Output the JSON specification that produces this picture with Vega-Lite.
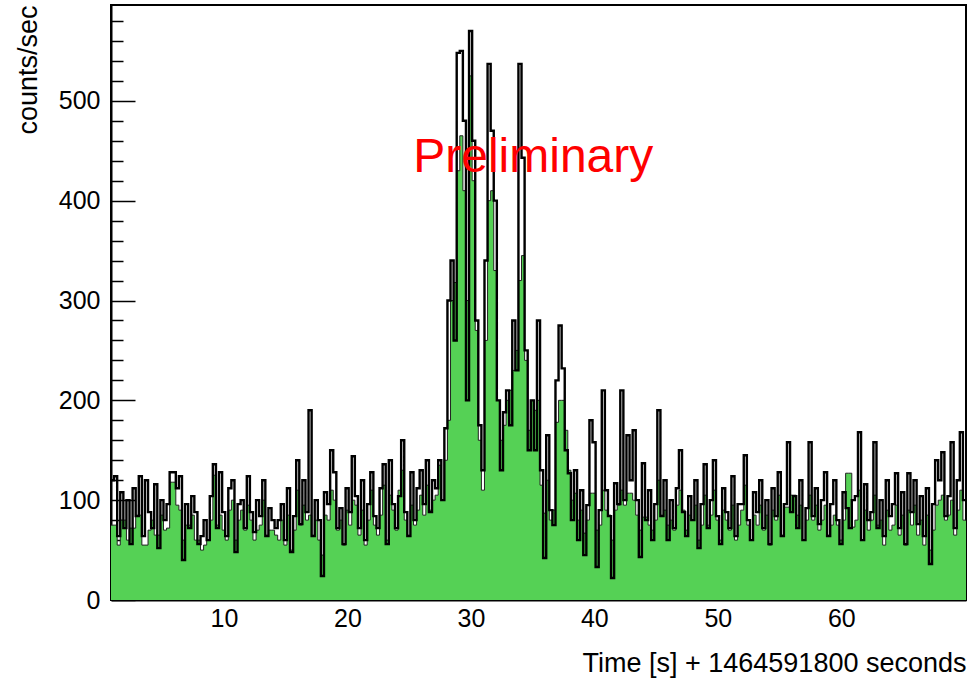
{
"$schema": "https://vega.github.io/schema/vega-lite/v6.json",
"width": 855, "height": 595,
"autosize": {"type": "none"},
"padding": {"left": 111, "top": 5, "right": 2, "bottom": 82},
"background": "white",
"config": {"font": "Liberation Sans", "view": {"stroke": "black", "strokeWidth": 2}, "axis": {"grid": false, "zindex": 1, "tickColor": "black", "tickWidth": 1.5, "labelColor": "black", "titleColor": "black", "labelFont": "Liberation Sans", "titleFont": "Liberation Sans"}},
"datasets": {
"note": [{"x": 35.05, "y": 443, "label": "Preliminary"}],
"hist": [
{"t":0.85,"b":120,"g":75},{"t":1.1,"b":124,"g":75},{"t":1.35,"b":64,"g":55},{"t":1.6,"b":108,"g":80},
{"t":1.85,"b":72,"g":80},{"t":2.1,"b":100,"g":60},{"t":2.35,"b":56,"g":72},{"t":2.6,"b":112,"g":72},
{"t":2.85,"b":84,"g":85},{"t":3.1,"b":124,"g":85},{"t":3.35,"b":64,"g":55},{"t":3.6,"b":120,"g":55},
{"t":3.85,"b":88,"g":70},{"t":4.1,"b":72,"g":80},{"t":4.35,"b":116,"g":65},{"t":4.6,"b":52,"g":65},
{"t":4.85,"b":100,"g":85},{"t":5.1,"b":80,"g":70},{"t":5.35,"b":96,"g":72},{"t":5.6,"b":128,"g":118},
{"t":5.85,"b":128,"g":118},{"t":6.1,"b":112,"g":95},{"t":6.35,"b":124,"g":90},{"t":6.6,"b":40,"g":60},
{"t":6.85,"b":96,"g":75},{"t":7.1,"b":72,"g":75},{"t":7.35,"b":104,"g":85},{"t":7.6,"b":88,"g":60},
{"t":7.85,"b":56,"g":60},{"t":8.1,"b":64,"g":50},{"t":8.35,"b":80,"g":55},{"t":8.6,"b":60,"g":60},
{"t":8.85,"b":104,"g":80},{"t":9.1,"b":136,"g":125},{"t":9.35,"b":72,"g":75},{"t":9.6,"b":128,"g":85},
{"t":9.85,"b":88,"g":70},{"t":10.1,"b":64,"g":60},{"t":10.35,"b":112,"g":90},{"t":10.6,"b":120,"g":100},
{"t":10.85,"b":48,"g":60},{"t":11.1,"b":96,"g":80},{"t":11.35,"b":100,"g":90},{"t":11.6,"b":72,"g":70},
{"t":11.85,"b":124,"g":95},{"t":12.1,"b":88,"g":80},{"t":12.35,"b":68,"g":60},{"t":12.6,"b":100,"g":70},
{"t":12.85,"b":84,"g":75},{"t":13.1,"b":120,"g":100},{"t":13.35,"b":64,"g":65},{"t":13.6,"b":92,"g":70},
{"t":13.85,"b":80,"g":70},{"t":14.1,"b":72,"g":65},{"t":14.35,"b":80,"g":60},{"t":14.6,"b":96,"g":80},
{"t":14.85,"b":60,"g":55},{"t":15.1,"b":112,"g":85},{"t":15.35,"b":48,"g":50},{"t":15.6,"b":84,"g":70},
{"t":15.85,"b":140,"g":110},{"t":16.1,"b":76,"g":75},{"t":16.35,"b":120,"g":95},{"t":16.6,"b":88,"g":80},
{"t":16.85,"b":190,"g":85},{"t":17.1,"b":64,"g":65},{"t":17.35,"b":100,"g":80},{"t":17.6,"b":80,"g":60},
{"t":17.85,"b":24,"g":45},{"t":18.1,"b":108,"g":85},{"t":18.35,"b":96,"g":80},{"t":18.6,"b":150,"g":110},
{"t":18.85,"b":128,"g":100},{"t":19.1,"b":72,"g":70},{"t":19.35,"b":92,"g":80},{"t":19.6,"b":56,"g":55},
{"t":19.85,"b":112,"g":90},{"t":20.1,"b":88,"g":75},{"t":20.35,"b":144,"g":100},{"t":20.6,"b":104,"g":95},
{"t":20.85,"b":72,"g":65},{"t":21.1,"b":120,"g":90},{"t":21.35,"b":60,"g":55},{"t":21.6,"b":96,"g":80},
{"t":21.85,"b":128,"g":110},{"t":22.1,"b":84,"g":75},{"t":22.35,"b":72,"g":65},{"t":22.6,"b":112,"g":85},
{"t":22.85,"b":136,"g":115},{"t":23.1,"b":56,"g":60},{"t":23.35,"b":140,"g":105},{"t":23.6,"b":96,"g":90},
{"t":23.85,"b":72,"g":70},{"t":24.1,"b":104,"g":110},{"t":24.35,"b":160,"g":130},{"t":24.6,"b":88,"g":80},
{"t":24.85,"b":64,"g":65},{"t":25.1,"b":128,"g":95},{"t":25.35,"b":80,"g":75},{"t":25.6,"b":112,"g":90},
{"t":25.85,"b":130,"g":105},{"t":26.1,"b":96,"g":85},{"t":26.35,"b":140,"g":115},{"t":26.6,"b":88,"g":90},
{"t":26.85,"b":120,"g":100},{"t":27.1,"b":112,"g":105},{"t":27.35,"b":140,"g":135},{"t":27.6,"b":100,"g":100},
{"t":27.85,"b":172,"g":140},{"t":28.1,"b":300,"g":180},{"t":28.35,"b":340,"g":300},{"t":28.6,"b":260,"g":318},
{"t":28.85,"b":548,"g":430},{"t":29.1,"b":550,"g":465},{"t":29.35,"b":480,"g":410},{"t":29.6,"b":200,"g":300},
{"t":29.85,"b":570,"g":525},{"t":30.1,"b":460,"g":420},{"t":30.35,"b":280,"g":270},{"t":30.6,"b":175,"g":160},
{"t":30.85,"b":130,"g":110},{"t":31.1,"b":340,"g":260},{"t":31.35,"b":537,"g":400},{"t":31.6,"b":470,"g":410},
{"t":31.85,"b":400,"g":330},{"t":32.1,"b":200,"g":200},{"t":32.35,"b":130,"g":160},{"t":32.6,"b":188,"g":175},
{"t":32.85,"b":210,"g":200},{"t":33.1,"b":175,"g":210},{"t":33.35,"b":280,"g":230},{"t":33.6,"b":230,"g":250},
{"t":33.85,"b":537,"g":320},{"t":34.1,"b":443,"g":345},{"t":34.35,"b":250,"g":240},{"t":34.6,"b":150,"g":170},
{"t":34.85,"b":200,"g":200},{"t":35.1,"b":150,"g":190},{"t":35.35,"b":280,"g":200},{"t":35.6,"b":130,"g":115},
{"t":35.85,"b":42,"g":87},{"t":36.1,"b":165,"g":120},{"t":36.35,"b":90,"g":80},{"t":36.6,"b":75,"g":90},
{"t":36.85,"b":220,"g":178},{"t":37.1,"b":275,"g":200},{"t":37.35,"b":232,"g":200},{"t":37.6,"b":150,"g":170},
{"t":37.85,"b":127,"g":130},{"t":38.1,"b":80,"g":100},{"t":38.35,"b":130,"g":107},{"t":38.6,"b":60,"g":80},
{"t":38.85,"b":110,"g":90},{"t":39.1,"b":45,"g":67},{"t":39.35,"b":95,"g":80},{"t":39.6,"b":180,"g":107},
{"t":39.85,"b":158,"g":107},{"t":40.1,"b":33,"g":70},{"t":40.35,"b":90,"g":75},{"t":40.6,"b":210,"g":110},
{"t":40.85,"b":110,"g":90},{"t":41.1,"b":84,"g":85},{"t":41.35,"b":22,"g":60},{"t":41.6,"b":117,"g":90},
{"t":41.85,"b":96,"g":95},{"t":42.1,"b":210,"g":110},{"t":42.35,"b":100,"g":95},{"t":42.6,"b":165,"g":107},
{"t":42.85,"b":120,"g":107},{"t":43.1,"b":170,"g":100},{"t":43.35,"b":100,"g":85},{"t":43.6,"b":43,"g":70},
{"t":43.85,"b":137,"g":83},{"t":44.1,"b":80,"g":83},{"t":44.35,"b":110,"g":75},{"t":44.6,"b":60,"g":70},
{"t":44.85,"b":96,"g":80},{"t":45.1,"b":190,"g":120},{"t":45.35,"b":84,"g":85},{"t":45.6,"b":120,"g":90},
{"t":45.85,"b":60,"g":75},{"t":46.1,"b":100,"g":80},{"t":46.35,"b":72,"g":70},{"t":46.6,"b":112,"g":95},
{"t":46.85,"b":150,"g":110},{"t":47.1,"b":88,"g":90},{"t":47.35,"b":64,"g":70},{"t":47.6,"b":104,"g":85},
{"t":47.85,"b":80,"g":80},{"t":48.1,"b":120,"g":95},{"t":48.35,"b":52,"g":60},{"t":48.6,"b":96,"g":75},
{"t":48.85,"b":136,"g":105},{"t":49.1,"b":72,"g":75},{"t":49.35,"b":100,"g":85},{"t":49.6,"b":140,"g":110},
{"t":49.85,"b":84,"g":80},{"t":50.1,"b":56,"g":60},{"t":50.35,"b":112,"g":90},{"t":50.6,"b":88,"g":80},
{"t":50.85,"b":72,"g":70},{"t":51.1,"b":124,"g":95},{"t":51.35,"b":64,"g":60},{"t":51.6,"b":96,"g":75},
{"t":51.85,"b":96,"g":90},{"t":52.1,"b":145,"g":115},{"t":52.35,"b":80,"g":75},{"t":52.6,"b":60,"g":60},
{"t":52.85,"b":108,"g":85},{"t":53.1,"b":88,"g":75},{"t":53.35,"b":120,"g":95},{"t":53.6,"b":72,"g":70},
{"t":53.85,"b":100,"g":85},{"t":54.1,"b":56,"g":55},{"t":54.35,"b":112,"g":90},{"t":54.6,"b":84,"g":80},
{"t":54.85,"b":128,"g":105},{"t":55.1,"b":64,"g":65},{"t":55.35,"b":96,"g":93},{"t":55.6,"b":158,"g":93},
{"t":55.85,"b":88,"g":105},{"t":56.1,"b":104,"g":105},{"t":56.35,"b":72,"g":85},{"t":56.6,"b":120,"g":95},
{"t":56.85,"b":60,"g":60},{"t":57.1,"b":92,"g":80},{"t":57.35,"b":158,"g":105},{"t":57.6,"b":84,"g":80},
{"t":57.85,"b":112,"g":95},{"t":58.1,"b":76,"g":70},{"t":58.35,"b":100,"g":80},{"t":58.6,"b":128,"g":95},
{"t":58.85,"b":64,"g":65},{"t":59.1,"b":96,"g":75},{"t":59.35,"b":120,"g":85},{"t":59.6,"b":80,"g":75},
{"t":59.85,"b":56,"g":60},{"t":60.1,"b":108,"g":80},{"t":60.35,"b":92,"g":127},{"t":60.6,"b":72,"g":127},
{"t":60.85,"b":100,"g":73},{"t":61.1,"b":104,"g":80},{"t":61.35,"b":168,"g":110},{"t":61.6,"b":60,"g":60},
{"t":61.85,"b":116,"g":90},{"t":62.1,"b":80,"g":70},{"t":62.35,"b":88,"g":80},{"t":62.6,"b":158,"g":105},
{"t":62.85,"b":72,"g":75},{"t":63.1,"b":100,"g":80},{"t":63.35,"b":64,"g":55},{"t":63.6,"b":120,"g":90},
{"t":63.85,"b":84,"g":70},{"t":64.1,"b":96,"g":75},{"t":64.35,"b":127,"g":95},{"t":64.6,"b":72,"g":65},
{"t":64.85,"b":108,"g":85},{"t":65.1,"b":56,"g":55},{"t":65.35,"b":127,"g":90},{"t":65.6,"b":88,"g":75},
{"t":65.85,"b":120,"g":95},{"t":66.1,"b":76,"g":65},{"t":66.35,"b":104,"g":80},{"t":66.6,"b":64,"g":55},
{"t":66.85,"b":112,"g":85},{"t":67.1,"b":36,"g":50},{"t":67.35,"b":96,"g":70},{"t":67.6,"b":140,"g":95},
{"t":67.85,"b":120,"g":100},{"t":68.1,"b":148,"g":105},{"t":68.35,"b":84,"g":80},{"t":68.6,"b":104,"g":85},
{"t":68.85,"b":158,"g":100},{"t":69.1,"b":72,"g":65},{"t":69.35,"b":120,"g":90},{"t":69.6,"b":168,"g":110},
{"t":69.85,"b":100,"g":80},{"t":70.1,"b":100,"g":80}
]},
"layer": [
{"data": {"name": "hist"},
 "mark": {"type": "area", "interpolate": "step-after", "color": "#55d155", "opacity": 1, "fillOpacity": 1, "clip": true, "line": {"stroke": "#222222", "strokeWidth": 1, "opacity": 1}},
 "encoding": {
  "x": {"field": "t", "type": "quantitative", "scale": {"domain": [0.85, 70.1], "nice": false, "zero": false},
        "axis": {"orient": "bottom", "values": [10,20,30,40,50,60], "ticks": false, "domain": true, "domainColor": "black", "domainWidth": 2, "labelFontSize": 25, "labelPadding": 6, "title": "Time [s] + 1464591800 seconds", "titleFontSize": 27, "titleFontWeight": "normal", "titleAnchor": "end", "titleAlign": "right", "titleBaseline": "alphabetic", "titleX": 855, "titleY": 71}},
  "y": {"field": "g", "type": "quantitative", "scale": {"domain": [0, 596], "nice": false, "zero": true},
        "axis": {"orient": "left", "values": [0,100,200,300,400,500], "ticks": false, "domain": true, "domainColor": "black", "domainWidth": 2, "labelFontSize": 25, "labelPadding": 11, "title": "counts/sec", "titleFontSize": 27, "titleFontWeight": "normal", "titleAngle": 270, "titleAnchor": "end", "titleAlign": "right", "titleBaseline": "top", "titleX": -96, "titleY": 0}}
 }},
{"data": {"name": "hist"},
 "mark": {"type": "line", "interpolate": "step-after", "color": "black", "strokeWidth": 2.4, "clip": true},
 "encoding": {
  "x": {"field": "t", "type": "quantitative", "scale": {"domain": [0.85, 70.1], "nice": false, "zero": false},
        "axis": {"orient": "bottom", "values": [10,20,30,40,50,60], "tickSize": -18, "labels": false, "domain": false, "title": null}},
  "y": {"field": "b", "type": "quantitative", "scale": {"domain": [0, 596], "nice": false, "zero": true},
        "axis": {"orient": "left", "values": [0,100,200,300,400,500], "tickSize": -24, "labels": false, "domain": false, "title": null}}
 }},
{"data": {"name": "note"},
 "mark": {"type": "text", "font": "Liberation Sans", "fontSize": 48, "color": "#ff0000", "align": "center", "baseline": "middle"},
 "encoding": {
  "x": {"field": "x", "type": "quantitative", "scale": {"domain": [0.85, 70.1], "nice": false, "zero": false},
        "axis": {"orient": "bottom", "values": [2,4,6,8,12,14,16,18,22,24,26,28,32,34,36,38,42,44,46,48,52,54,56,58,62,64,66,68,70], "tickSize": -9, "labels": false, "domain": false, "title": null}},
  "y": {"field": "y", "type": "quantitative", "scale": {"domain": [0, 596], "nice": false, "zero": true},
        "axis": {"orient": "left", "values": [20,40,60,80,120,140,160,180,220,240,260,280,320,340,360,380,420,440,460,480,520,540,560,580], "tickSize": -12, "labels": false, "domain": false, "title": null}},
  "text": {"field": "label"}
 }}
],
"resolve": {"axis": {"x": "independent", "y": "independent"}}
}
